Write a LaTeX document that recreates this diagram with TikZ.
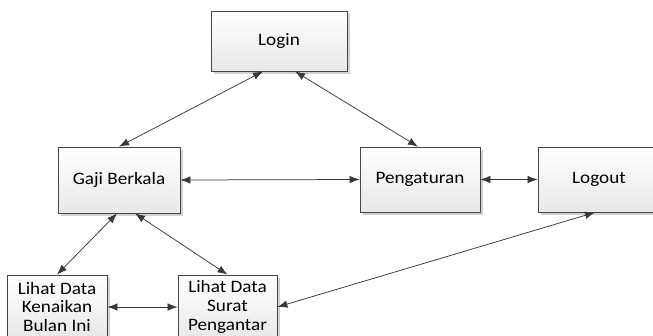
\documentclass[tikz,border=0pt]{standalone}
\usepackage{fontspec}
\setmainfont{Carlito}[FakeStretch=1.1]
\usetikzlibrary{arrows.meta,shadows}
\tikzset{
  boxnode/.style={draw=black!72, line width=0.8bp, top color=white, bottom color=black!9,
    drop shadow={shadow xshift=2.5bp, shadow yshift=-2.5bp, fill=black!18, opacity=1},
    inner sep=0pt, align=center, text=black,
    font=\fontsize{17.5}{18.8}\selectfont},
  link/.style={draw=black!78, line width=0.75bp, {Latex[length=10bp,width=7.5bp]}-{Latex[length=10bp,width=7.5bp]}}
}
\begin{document}
\begin{tikzpicture}[x=1bp,y=-1bp]
\useasboundingbox (0,0) rectangle (653,335);
\clip (0,0) rectangle (653,335);
\node[boxnode, minimum width=136bp, minimum height=60bp] (login) at (279,41) {Login};
\node[boxnode, minimum width=122bp, minimum height=66bp] (gaji) at (119,180) {Gaji Berkala};
\node[boxnode, minimum width=120bp, minimum height=65bp] (peng) at (420,179.5) {Pengaturan};
\node[boxnode, minimum width=122bp, minimum height=65bp] (logout) at (599,179.5) {Logout};
\node[boxnode, minimum width=100bp, minimum height=64bp] (naik) at (57,307) {Lihat Data\\Kenaikan\\Bulan Ini};
\node[boxnode, minimum width=99bp, minimum height=64bp] (surat) at (227.5,307) {Lihat Data\\Surat\\Pengantar};
\draw[link] (gaji.north) -- ([xshift=-16bp]login.south);
\draw[link] ([xshift=16bp]login.south) -- ([xshift=-2bp]peng.north);
\draw[link] (gaji.east) -- (peng.west);
\draw[link] (peng.east) -- (logout.west);
\draw[link] ([xshift=-2bp]gaji.south) -- (naik.north);
\draw[link] ([xshift=16bp]gaji.south) -- (surat.north);
\draw[link] (naik.east) -- (surat.west);
\draw[link] (surat.east) -- ([xshift=-4bp]logout.south);
\end{tikzpicture}
\end{document}
